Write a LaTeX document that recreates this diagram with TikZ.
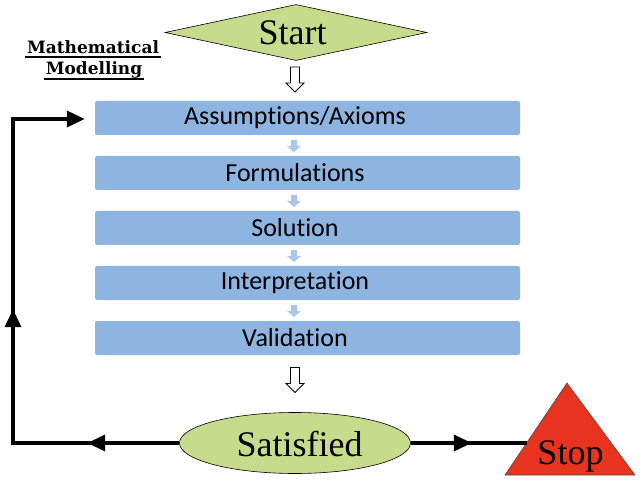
\documentclass[tikz,border=0pt]{standalone}
\usepackage{fontspec}
\setmainfont{Liberation Serif}
\newfontfamily\barfont[Ligatures=NoCommon]{Carlito}
\newfontfamily\titlefont{DejaVu Serif}
\usetikzlibrary{shapes.geometric,arrows.meta,decorations.markings,calc}
\definecolor{barblue}{RGB}{142,181,226}
\definecolor{smallblue}{RGB}{170,198,235}
\definecolor{startgreen}{RGB}{198,220,140}
\definecolor{stopred}{RGB}{232,52,30}
\tikzset{bigtip/.tip={Triangle[length=18pt,width=16pt]}}
\begin{document}
\begin{tikzpicture}[x=1pt,y=-1pt,
  bar/.style={rectangle,rounded corners=2pt,fill=barblue,minimum width=425pt,minimum height=34pt,inner sep=0pt},
  bartext/.style={font=\barfont\fontsize{26}{26}\selectfont,inner sep=0pt},
  serifbig/.style={font=\fontsize{36}{36}\selectfont,inner sep=0pt,anchor=base},
  titletext/.style={font=\titlefont\bfseries\fontsize{17}{17}\selectfont,inner sep=0pt,anchor=base},
  uline/.style={line width=1.2pt,black},
  loopline/.style={line width=3.5pt,black},
  hollow/.style={draw=black,line width=0.8pt,fill=white},
  smallarr/.style={fill=smallblue},
  pics/hollowarrow/.style={code={
    \draw[hollow] (-4.5,-12.5) -- (4.5,-12.5) -- (4.5,3.5) -- (9,3.5) -- (0,12.5) -- (-9,3.5) -- (-4.5,3.5) -- cycle;}},
  pics/smallarrow/.style={code={
    \fill[smallarr] (-3,-6) -- (3,-6) -- (3,0) -- (7,0) -- (0,6) -- (-7,0) -- (-3,0) -- cycle;}}
]
\useasboundingbox (0,0) rectangle (640,481);
\fill[white] (0,0) rectangle (640,481);

% title
\node[titletext] (t1) at (93,54) {Mathematical};
\node[titletext] (t2) at (94,75) {Modelling};
\draw[uline] ([xshift=-2pt,yshift=-3pt]t1.base west) -- ([xshift=2pt,yshift=-3pt]t1.base east);
\draw[uline] ([xshift=-2pt,yshift=-4pt]t2.base west) -- ([xshift=2pt,yshift=-4pt]t2.base east);

% start
\node[diamond,draw=black,line width=0.6pt,fill=startgreen,minimum width=262pt,minimum height=56pt,inner sep=0pt] (start) at (296,32.5) {};
\node[serifbig] (starttext) at (292.5,45) {Start};

% bars
\node[bar] (b1) at (307.5,118) {};
\node[bar] (b2) at (307.5,173) {};
\node[bar] (b3) at (307.5,228) {};
\node[bar] (b4) at (307.5,283) {};
\node[bar] (b5) at (307.5,338) {};
\node[bartext] (l1) at (295,118) {Assumptions/Axioms};
\node[bartext] (l2) at (295,173) {Formulations};
\node[bartext] (l3) at (295,228) {Solution};
\node[bartext] (l4) at (295,283) {Interpretation};
\node[bartext] (l5) at (295,338) {Validation};

% small arrows between bars
\pic at (294,146) {smallarrow};
\pic at (294,201) {smallarrow};
\pic at (294,256) {smallarrow};
\pic at (294,311) {smallarrow};

% hollow arrows
\pic at (295,79.5) {hollowarrow};
\pic at (295,380) {hollowarrow};

% satisfied
\node[ellipse,draw=black,line width=0.6pt,fill=startgreen,minimum width=231pt,minimum height=61pt,inner sep=0pt] (sat) at (295,443) {};
\node[serifbig] (sattext) at (299.5,456) {Satisfied};

% stop
\filldraw[fill=stopred,draw=black!70,line width=0.6pt] (567,383) coordinate (apex) -- (505,475) coordinate (bl) -- (635,475) coordinate (br) -- cycle;
\node[serifbig] (stop) at (570.5,464) {Stop};
\coordinate (stopin) at (526.5,443);
\coordinate (c1) at (13,443);
\coordinate (c2) at (13,119);

% loop back
\draw[loopline,-{bigtip},shorten >=10pt,
  postaction={decorate,decoration={markings,
    mark=at position 92pt with {\arrow{bigtip}},
    mark=at position 300pt with {\arrow{bigtip}}}}]
  (sat.west) -- (c1) -- (c2) -- (b1.west |- c2);

% to stop
\draw[loopline,
  postaction={decorate,decoration={markings,
    mark=at position 61pt with {\arrow{bigtip}}}}]
  (sat.east) -- (stopin);
\end{tikzpicture}
\end{document}
